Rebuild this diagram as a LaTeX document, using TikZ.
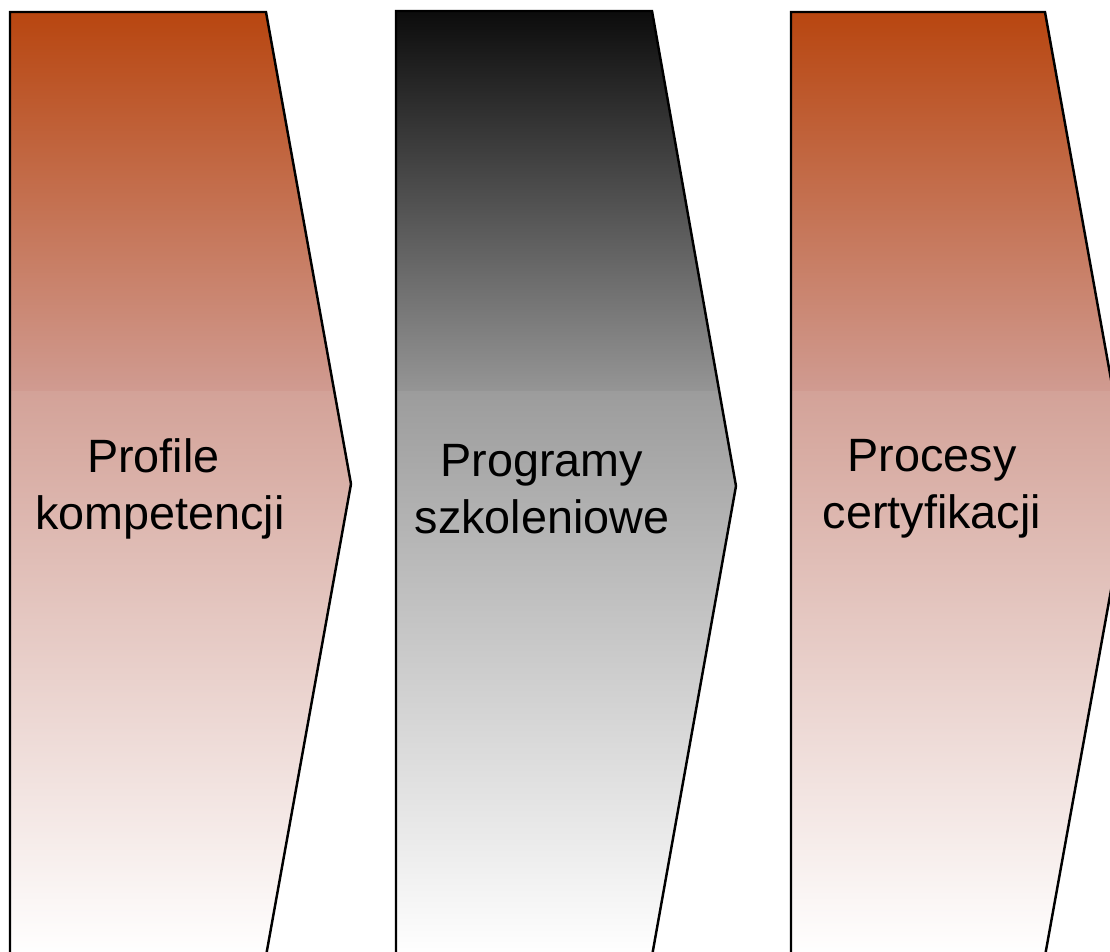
\documentclass[tikz,border=0pt]{standalone}
\usepackage{fontspec}
\setmainfont{Liberation Sans}
\definecolor{rust}{RGB}{184,70,16}
\definecolor{rustmid}{RGB}{208,155,145}
\definecolor{rustlow}{RGB}{211,162,152}
\definecolor{greytop}{RGB}{12,12,12}
\definecolor{greymid}{RGB}{149,149,149}
\definecolor{greylow}{RGB}{156,156,156}

\begin{document}
\begin{tikzpicture}[
    outline/.style={draw=black, line width=0.7pt, line join=miter},
    caption/.style={align=center, inner sep=0pt, font=\fontsize{13.3}{16.2}\selectfont}]
    \useasboundingbox (0,0) rectangle (11.1,-9.52);

    % first chevron
    \begin{scope}
        \clip (0.10,-0.12) -- (2.66,-0.12) -- (3.51,-4.84) -- (2.66,-9.56) -- (0.10,-9.56) -- cycle;
        \shade[top color=rust, bottom color=rustmid] (0,-0.12) rectangle (3.6,-3.91);
        \shade[top color=rustlow, bottom color=white] (0,-3.91) rectangle (3.6,-9.56);
    \end{scope}
    \draw[outline] (0.10,-0.12) -- (2.66,-0.12) -- (3.51,-4.84) -- (2.66,-9.56) -- (0.10,-9.56) -- cycle;
    \node[caption] (profile) at (1.60,-4.89) {Profile\hspace*{0.28em}\\kompetencji};

    % second chevron
    \begin{scope}
        \clip (3.96,-0.11) -- (6.52,-0.11) -- (7.36,-4.86) -- (6.52,-9.56) -- (3.96,-9.56) -- cycle;
        \shade[top color=greytop, bottom color=greymid] (3.9,-0.11) rectangle (7.4,-3.91);
        \shade[top color=greylow, bottom color=white] (3.9,-3.91) rectangle (7.4,-9.56);
    \end{scope}
    \draw[outline] (3.96,-0.11) -- (6.52,-0.11) -- (7.36,-4.86) -- (6.52,-9.56) -- (3.96,-9.56) -- cycle;
    \node[caption] (programy) at (5.42,-4.89) {Programy\\szkoleniowe};

    % third chevron
    \begin{scope}
        \clip (7.91,-0.12) -- (10.45,-0.12) -- (11.30,-4.85) -- (10.45,-9.56) -- (7.91,-9.56) -- cycle;
        \shade[top color=rust, bottom color=rustmid] (7.8,-0.12) rectangle (11.4,-3.91);
        \shade[top color=rustlow, bottom color=white] (7.8,-3.91) rectangle (11.4,-9.56);
    \end{scope}
    \draw[outline] (7.91,-0.12) -- (10.45,-0.12) -- (11.30,-4.85) -- (10.45,-9.56) -- (7.91,-9.56) -- cycle;
    \node[caption] (procesy) at (9.32,-4.89) {Procesy\\certyfikacji};

\end{tikzpicture}
\end{document}
